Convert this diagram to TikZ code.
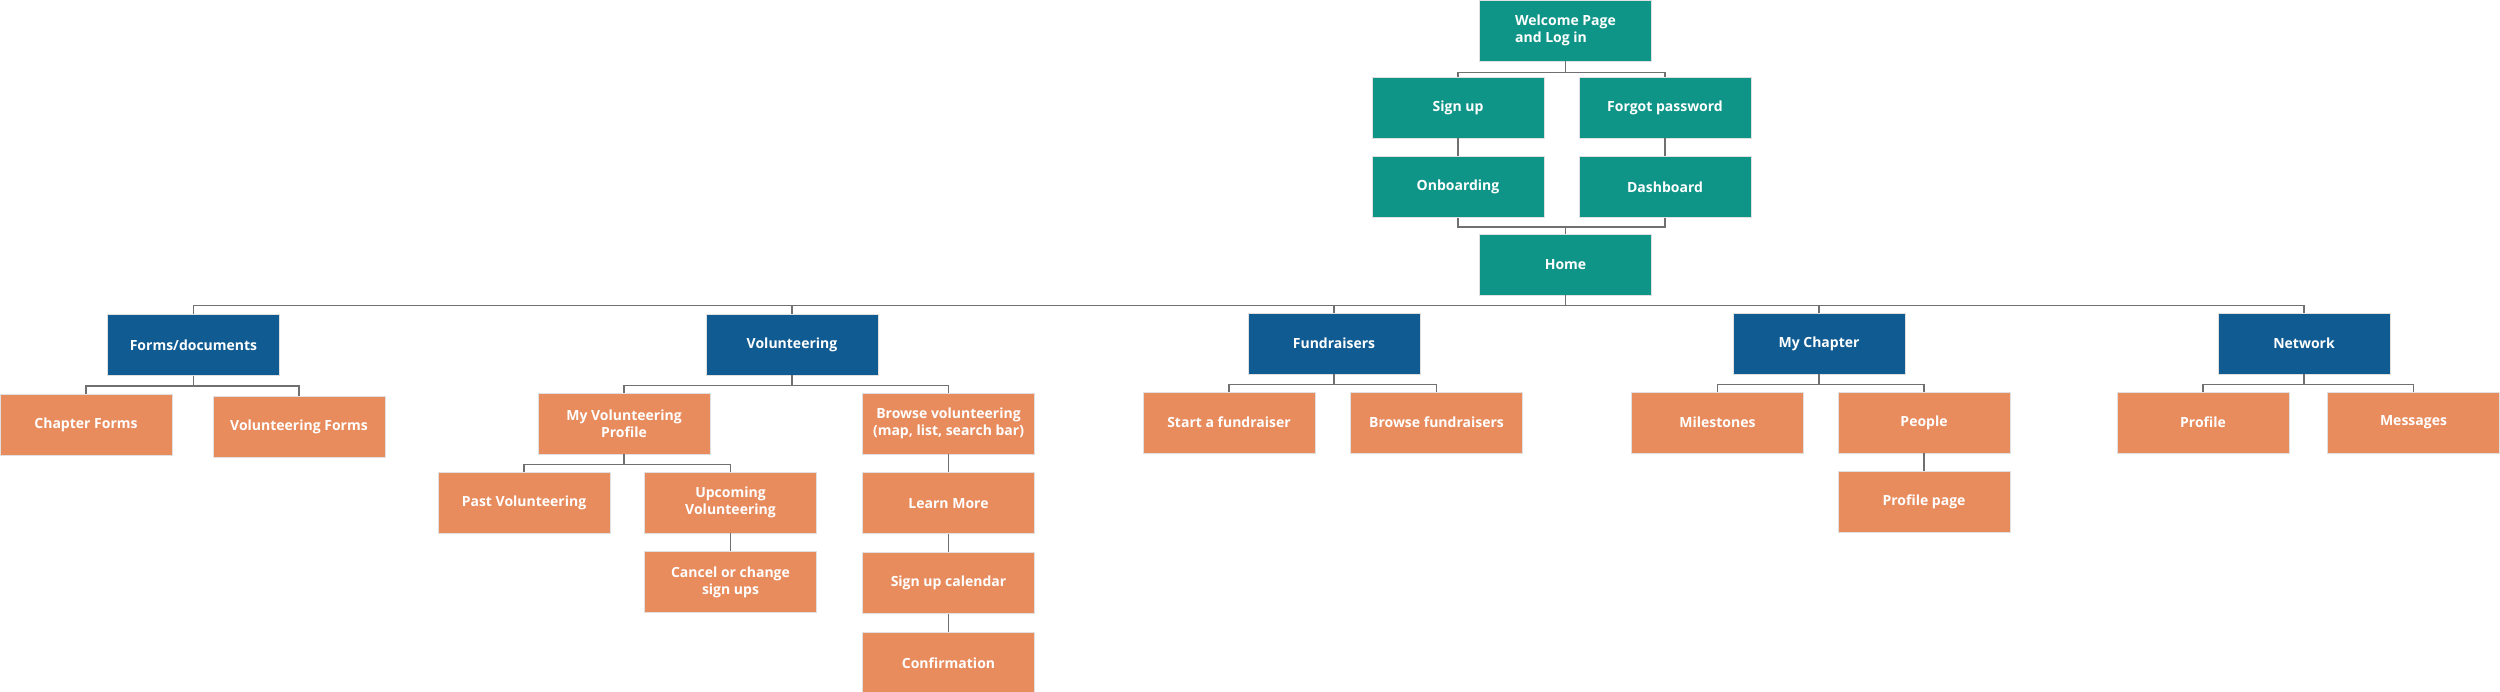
\documentclass[tikz,border=0pt]{standalone}
\usepackage{fontspec}
\setmainfont{Open Sans}
\usetikzlibrary{positioning}

\definecolor{tealbox}{HTML}{0F9488}
\definecolor{bluebox}{HTML}{0F5B92}
\definecolor{orangebox}{HTML}{E88B5D}
\definecolor{linkgray}{HTML}{707070}

\begin{document}
\begin{tikzpicture}[x=1pt,y=-1pt,node distance=18pt,
    page/.style={draw=black!12,line width=0.8pt,text=white,font=\bfseries\fontsize{14}{17}\selectfont,
      minimum width=172pt,minimum height=61pt,inner sep=2pt,align=center},
    entry/.style={page,fill=tealbox},
    area/.style={page,fill=bluebox},
    leaf/.style={page,fill=orangebox},
    link/.style={draw=linkgray,line width=1.6pt}]
  \useasboundingbox (0,0) rectangle (2500,691);

  % log in part
  \node[entry,align=left] (welcome) at (1565.5,30.5) {Welcome Page\\and Log in};
  \node[entry] (sign_up) at (1458,107.5) {Sign up};
  \node[entry] (forgot) at (1665,107.5) {Forgot password};
  \node[entry] [below=of sign_up] (onboarding) {Onboarding};
  \node[entry] [below=of forgot] (dashboard) {Dashboard};
  \node[entry] (home) at (1565.5,264.5) {Home};

  % main sections
  \node[area] (forms) at (193.5,345) {Forms/documents};
  \node[area] (volunteering) at (792,344.5) {Volunteering};
  \node[area] (fundraisers) at (1334,343.5) {Fundraisers};
  \node[area] (my_chapter) at (1819,343.5) {My Chapter};
  \node[area] (network) at (2304,343.5) {Network};

  % pages
  \node[leaf] (chapter_forms) at (86,424.5) {Chapter Forms};
  \node[leaf] (vol_forms) at (299,427) {Volunteering Forms};
  \node[leaf] (vol_profile) at (624,423.5) {My Volunteering\\Profile};
  \node[leaf] (browse_vol) at (948.5,423.5) {Browse volunteering\\(map, list, search bar)};
  \node[leaf] (past_vol) at (524,502.5) {Past Volunteering};
  \node[leaf] (upcoming_vol) at (730.5,502.5) {Upcoming\\Volunteering};
  \node[leaf] [below=of upcoming_vol] (cancel) {Cancel or change\\sign ups};
  \node[leaf] [below=of browse_vol] (learn_more) {Learn More};
  \node[leaf] [below=of learn_more] (calendar) {Sign up calendar};
  \node[leaf] [below=of calendar] (confirmation) {Confirmation};
  \node[leaf] (start_fund) at (1229,422.5) {Start a fundraiser};
  \node[leaf] (browse_fund) at (1436.5,422.5) {Browse fundraisers};
  \node[leaf] (milestones) at (1717.5,422.5) {Milestones};
  \node[leaf] (people) at (1924,422.5) {People};
  \node[leaf] [below=of people] (profile_page) {Profile page};
  \node[leaf] (profile) at (2203,422.5) {Profile};
  \node[leaf] (messages) at (2413.5,422.5) {Messages};

  % connectors
  \draw[link] (welcome.south) -- ++(0,11) -| (sign_up.north);
  \draw[link] (welcome.south) -- ++(0,11) -| (forgot.north);
  \draw[link] (sign_up) -- (onboarding);
  \draw[link] (forgot) -- (dashboard);
  \draw[link] (onboarding.south) -- ++(0,9) -| (home.north);
  \draw[link] (dashboard.south) -- ++(0,9) -| (home.north);
  \foreach \n in {forms,volunteering,fundraisers,my_chapter,network}
    \draw[link] (home.south) -- ++(0,10) -| (\n.north);
  \foreach \p/\c in {forms/chapter_forms,forms/vol_forms,volunteering/vol_profile,volunteering/browse_vol,
      vol_profile/past_vol,vol_profile/upcoming_vol,fundraisers/start_fund,fundraisers/browse_fund,
      my_chapter/milestones,my_chapter/people,network/profile,network/messages}
    \draw[link] (\p.south) -- ++(0,10) -| (\c.north);
  \draw[link] (upcoming_vol) -- (cancel);
  \draw[link] (browse_vol) -- (learn_more);
  \draw[link] (learn_more) -- (calendar);
  \draw[link] (calendar) -- (confirmation);
  \draw[link] (people) -- (profile_page);
\end{tikzpicture}
\end{document}
